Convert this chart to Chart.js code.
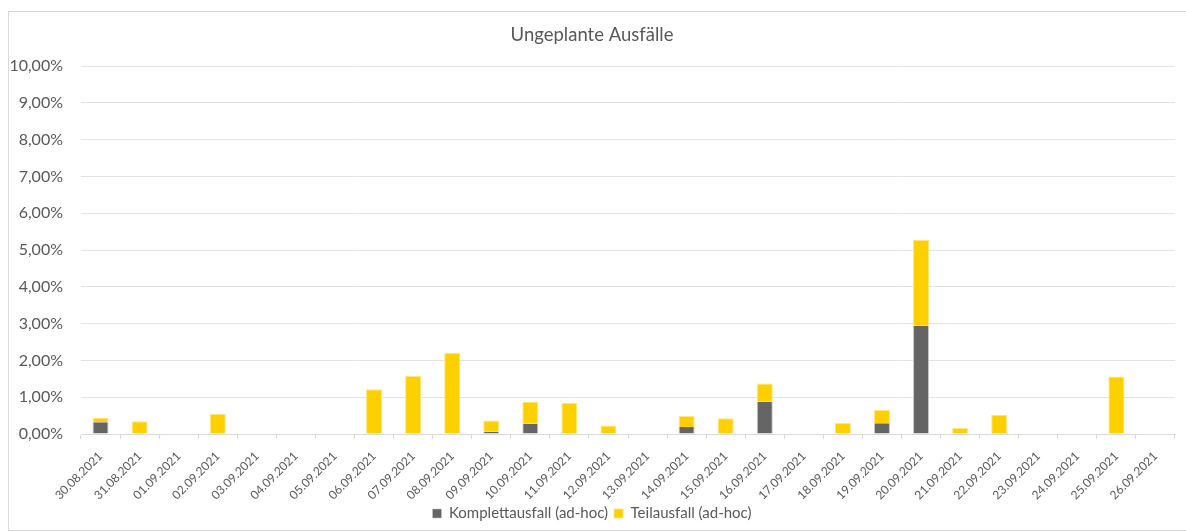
<!DOCTYPE html>
<html>
<head>
<meta charset="utf-8">
<script src="https://cdn.jsdelivr.net/npm/chart.js@4/dist/chart.umd.min.js"></script>
<style>
    html, body { margin: 0; padding: 0; background: #fff; }
    #frame {
        position: absolute; left: 8px; top: 11px; width: 1180px; height: 520px;
        border: 1px solid #d9d9d9; box-sizing: border-box;
    }
    #wrap { position: absolute; left: 0; top: 0; width: 1186px; height: 531px; }
</style>
</head>
<body>
<div id="frame"></div>
<div id="wrap"><canvas id="chart"></canvas></div>
<script>
// Dates (x categories)
const dates = [
    '30.08.2021', '31.08.2021', '01.09.2021', '02.09.2021', '03.09.2021', '04.09.2021', '05.09.2021',
    '06.09.2021', '07.09.2021', '08.09.2021', '09.09.2021', '10.09.2021', '11.09.2021', '12.09.2021',
    '13.09.2021', '14.09.2021', '15.09.2021', '16.09.2021', '17.09.2021', '18.09.2021', '19.09.2021',
    '20.09.2021', '21.09.2021', '22.09.2021', '23.09.2021', '24.09.2021', '25.09.2021', '26.09.2021'
];

// Values in percent
const komplettausfall = [
    0.32, 0, 0, 0, 0, 0, 0,
    0, 0, 0, 0.06, 0.28, 0, 0,
    0, 0.19, 0, 0.88, 0, 0, 0.29,
    2.94, 0, 0, 0, 0, 0, 0
];
const teilausfall = [
    0.12, 0.35, 0, 0.55, 0, 0, 0,
    1.22, 1.58, 2.20, 0.31, 0.60, 0.84, 0.23,
    0, 0.30, 0.43, 0.49, 0, 0.30, 0.36,
    2.34, 0.16, 0.52, 0, 0, 1.56, 0
];

const textColor = '#595959';
const fontFamily = 'Lato, "Open Sans", sans-serif';

function fmtPct(v) {
    return v.toFixed(2).replace('.', ',') + '%';
}

const ctx = document.getElementById('chart').getContext('2d');
new Chart(ctx, {
    type: 'bar',
    data: {
        labels: dates,
        datasets: [
            {
                label: 'Komplettausfall (ad-hoc)',
                data: komplettausfall,
                backgroundColor: '#656565',
                borderColor: '#c8c8c8',
                borderWidth: { top: 0, left: 1, right: 1, bottom: 0 },
                barPercentage: 0.41,
                categoryPercentage: 1
            },
            {
                label: 'Teilausfall (ad-hoc)',
                data: teilausfall,
                backgroundColor: '#ffd000',
                borderColor: '#ffe680',
                borderWidth: { top: 1, left: 1, right: 1, bottom: 0 },
                barPercentage: 0.41,
                categoryPercentage: 1
            }
        ]
    },
    options: {
        responsive: true,
        maintainAspectRatio: false,
        animation: false,
        layout: { padding: { left: 9, right: 11, top: 16, bottom: 0 } },
        plugins: {
            title: {
                display: true,
                text: 'Ungeplante Ausfälle',
                color: textColor,
                font: { family: fontFamily, size: 18.5, weight: 'normal' },
                padding: { top: 8, bottom: 20 }
            },
            legend: {
                position: 'bottom',
                labels: {
                    color: textColor,
                    font: { family: fontFamily, size: 15 },
                    usePointStyle: true,
                    pointStyle: 'rect',
                    boxWidth: 9,
                    boxHeight: 9,
                    padding: 6
                }
            },
            tooltip: { enabled: false }
        },
        scales: {
            x: {
                stacked: true,
                offset: true,
                // fixed axis height, the measured one comes out too tall
                afterFit: scale => { scale.height = 66; },
                grid: {
                    offset: true,
                    drawOnChartArea: false,
                    color: '#d9d9d9',
                    tickLength: 5
                },
                border: { color: '#d9d9d9' },
                ticks: {
                    color: textColor,
                    font: { family: fontFamily, size: 12 },
                    minRotation: 45,
                    maxRotation: 45,
                    autoSkip: false,
                    padding: 10
                }
            },
            y: {
                stacked: true,
                min: 0,
                max: 10,
                afterFit: scale => { scale.width = 72; },
                ticks: {
                    stepSize: 1,
                    color: textColor,
                    font: { family: fontFamily, size: 16 },
                    padding: 18,
                    callback: v => fmtPct(v)
                },
                grid: { color: '#e3e3e3', lineWidth: 1, drawTicks: false },
                border: { display: false }
            }
        }
    }
});
</script>
</body>
</html>
